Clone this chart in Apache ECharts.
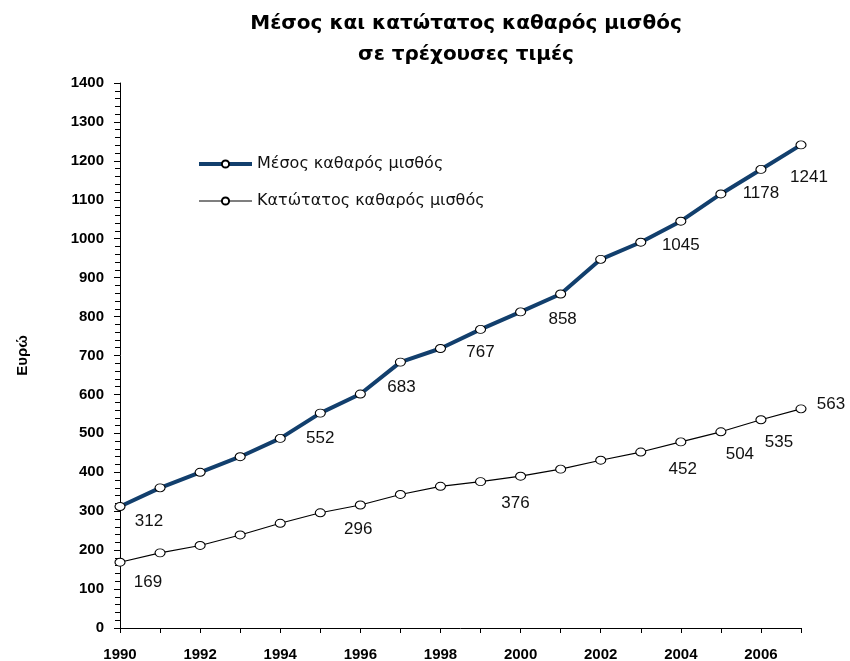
<!DOCTYPE html>
<html>
<head>
<meta charset="utf-8">
<script src="https://cdn.jsdelivr.net/npm/echarts@6/dist/echarts.min.js"></script>
<style>
	html, body { margin: 0; padding: 0; background: #fff; }
	#chart { width: 850px; height: 661px; }
</style>
</head>
<body>
<div id="chart"></div>
<script>
// data
var years = ['1990', '1991', '1992', '1993', '1994', '1995', '1996', '1997', '1998',
	'1999', '2000', '2001', '2002', '2003', '2004', '2005', '2006', '2007'];
var meanWage = [312, 360, 400, 440, 487, 552, 601, 683, 718, 767, 812, 858, 947, 991, 1045, 1115, 1178, 1241];
var minWage = [169, 193, 212, 239, 269, 296, 316, 343, 364, 376, 390, 408, 431, 452, 478, 504, 535, 563];
var yTicks = [0, 100, 200, 300, 400, 500, 600, 700, 800, 900, 1000, 1100, 1200, 1300, 1400];

// which points carry a value label, and where the label sits (offset from point)
var meanLabelPos = { 0: [29, 15], 5: [0, 25], 7: [1, 25], 9: [0, 23], 11: [2, 25], 14: [0, 24], 16: [0, 24], 17: [8, 32] };
var minLabelPos = { 0: [28, 20], 5: [38, 17], 9: [35, 22], 13: [42, 17], 15: [19, 23], 16: [18, 23], 17: [30, -5] };

var FONT = "'Liberation Sans', Arial, sans-serif";
var WIDE = "'DejaVu Sans', 'Liberation Sans', sans-serif";

function withLabels(values, posMap) {
	return values.map(function (v, i) {
		var p = posMap[i];
		if (!p) return v;
		return {
			value: v,
			label: {
				show: true,
				position: 'inside',
				align: 'center',
				verticalAlign: 'middle',
				offset: p,
				formatter: '{c}',
				fontFamily: FONT,
				fontSize: 17,
				color: '#111'
			}
		};
	});
}

var chart = echarts.init(document.getElementById('chart'));
chart.setOption({
	animation: false,
	backgroundColor: '#fff',
	title: {
		text: 'Μέσος και κατώτατος καθαρός μισθός\nσε τρέχουσες τιμές',
		left: 461,
		top: 3,
		textAlign: 'center',
		textStyle: {
			fontFamily: WIDE,
			fontSize: 20,
			fontWeight: 'bold',
			color: '#000',
			lineHeight: 31
		}
	},
	legend: {
		orient: 'vertical',
		left: 192,
		top: 151,
		itemWidth: 53,
		itemHeight: 9,
		itemGap: 21,
		selectedMode: false,
		textStyle: { fontFamily: WIDE, fontSize: 16, color: '#111' },
		data: [
			{ name: 'Μέσος καθαρός μισθός', lineStyle: { width: 4 } },
			{ name: 'Κατώτατος καθαρός μισθός', lineStyle: { width: 1.2 } }
		]
	},
	grid: { left: 120, right: 49, top: 83, bottom: 33, containLabel: false, outerBoundsMode: 'none' },
	xAxis: {
		type: 'category',
		boundaryGap: false,
		data: years,
		axisLine: { lineStyle: { color: '#000', width: 1 } },
		axisTick: { interval: 0, length: 5, lineStyle: { color: '#000' } },
		axisLabel: {
			interval: 1,
			margin: 19,
			fontFamily: FONT,
			fontSize: 15,
			fontWeight: 'bold',
			color: '#000'
		},
		splitLine: { show: false }
	},
	yAxis: {
		type: 'value',
		min: yTicks[0],
		max: yTicks[yTicks.length - 1],
		interval: 100,
		name: 'Ευρώ',
		nameLocation: 'middle',
		nameRotate: 90,
		nameGap: 90,
		nameTextStyle: { fontFamily: FONT, fontSize: 15, fontWeight: 'bold', color: '#000' },
		axisLine: { show: true, lineStyle: { color: '#000', width: 1 } },
		axisTick: { show: true, length: 6, lineStyle: { color: '#000' } },
		minorTick: { show: true, splitNumber: 5, length: 5, lineStyle: { color: '#000' } },
		axisLabel: {
			margin: 16,
			fontFamily: FONT,
			fontSize: 15,
			fontWeight: 'bold',
			color: '#000',
			formatter: function (v) { return String(v); }
		},
		splitLine: { show: false }
	},
	series: [
		{
			name: 'Μέσος καθαρός μισθός',
			type: 'line',
			data: withLabels(meanWage, meanLabelPos),
			symbol: 'circle',
			symbolSize: [10, 8],
			lineStyle: { color: '#123f6d', width: 4 },
			itemStyle: { color: '#fff', borderColor: '#000', borderWidth: 1 },
			z: 3
		},
		{
			name: 'Κατώτατος καθαρός μισθός',
			type: 'line',
			data: withLabels(minWage, minLabelPos),
			symbol: 'circle',
			symbolSize: [10, 8],
			lineStyle: { color: '#000', width: 1.2 },
			itemStyle: { color: '#fff', borderColor: '#000', borderWidth: 1 },
			z: 2
		}
	]
});
</script>
</body>
</html>
